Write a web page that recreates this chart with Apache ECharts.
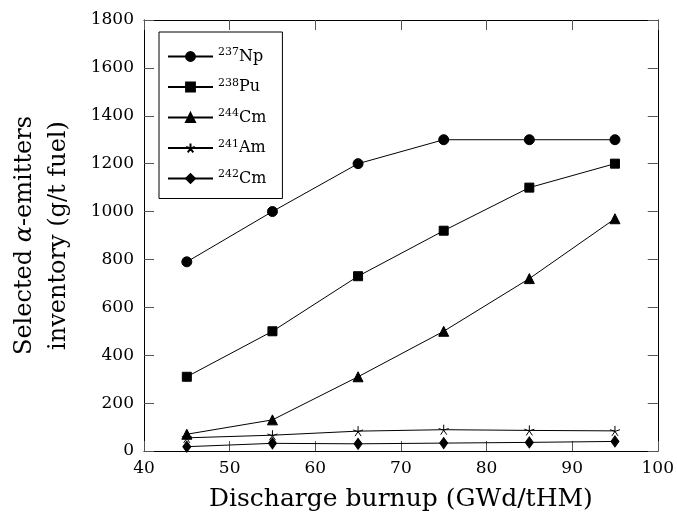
<!DOCTYPE html>
<html>
<head>
<meta charset="utf-8">
<script src="https://cdn.jsdelivr.net/npm/echarts@6/dist/echarts.min.js"></script>
<style>
  html, body { margin: 0; padding: 0; background: #fff; }
  #chart { width: 677px; height: 518px; }
</style>
</head>
<body>
<div id="chart"></div>
<script>
// burnup points (GWd/tHM)
const burnup = [45, 55, 65, 75, 85, 95]
// inventories (g/t fuel)
const np237 = [790, 1000, 1200, 1300, 1300, 1300]
const pu238 = [310, 500, 730, 920, 1100, 1200]
const cm244 = [70, 130, 310, 500, 720, 970]
const am241 = [55, 66, 83, 89, 86, 84]
const cm242 = [18, 32, 30, 33, 36, 40]

const names = ['237Np', '238Pu', '244Cm', '241Am', '242Cm']
const serif = 'DejaVu Serif'
const starPath = 'path://M0,-5L0,0M4.76,-1.55L0,0M2.94,4.05L0,0M-2.94,4.05L0,0M-4.76,-1.55L0,0'

function pairs(vals) {
  return burnup.map((x, i) => [x, vals[i]])
}

function mkSeries(name, vals, symbol, size) {
  return {
    name: name,
    type: 'line',
    data: pairs(vals),
    symbol: symbol,
    symbolSize: size,
    showAllSymbol: true,
    lineStyle: { color: '#000', width: 1 },
    itemStyle: { color: '#000', borderColor: '#000', borderWidth: 1 },
    emphasis: { disabled: true },
    z: 3
  }
}

const axisLine = { show: true, onZero: false, lineStyle: { color: '#000', width: 1 } }
const tick = { show: true, inside: true, length: 10, lineStyle: { color: '#555', width: 1 } }
const tickLabel = { fontFamily: serif, fontSize: 17, color: '#000', formatter: v => String(v) }

const option = {
  animation: false,
  backgroundColor: '#fff',
  grid: { left: 143, right: 17, top: 20, bottom: 67 },
  legend: {
    data: names,
    orient: 'vertical',
    left: 159,
    top: 32,
    itemWidth: 45,
    itemHeight: 11,
    itemGap: 13,
    padding: [15, 16, 12, 8],
    borderColor: '#000',
    borderWidth: 1,
    selectedMode: false,
    formatter(name) {
      return '{s|' + name.slice(0, 3) + '}{n|' + name.slice(3) + '}'
    },
    textStyle: {
      fontFamily: serif,
      color: '#000',
      rich: {
        s: { fontFamily: serif, fontSize: 11, padding: [0, 0, 8, 0] },
        n: { fontFamily: serif, fontSize: 16 }
      }
    }
  },
  xAxis: [
    {
      type: 'value',
      min: 40,
      max: 100,
      interval: 10,
      name: 'Discharge burnup (GWd/tHM)',
      nameLocation: 'middle',
      nameGap: 36,
      nameTextStyle: { fontFamily: serif, fontSize: 25, color: '#000' },
      axisLine: axisLine,
      axisTick: tick,
      axisLabel: Object.assign({ margin: 9 }, tickLabel),
      splitLine: { show: false }
    },
    {
      type: 'value',
      position: 'top',
      min: 40,
      max: 100,
      interval: 10,
      axisLine: axisLine,
      axisTick: tick,
      axisLabel: { show: false },
      splitLine: { show: false }
    }
  ],
  yAxis: [
    {
      type: 'value',
      min: 0,
      max: 1800,
      interval: 200,
      name: '{t|Selected }{a|α}{t|-emitters}\n{t|inventory (g/t fuel)}',
      nameLocation: 'middle',
      nameGap: 68,
      nameTextStyle: {
        fontFamily: serif,
        fontSize: 24,
        color: '#000',
        lineHeight: 34,
        rich: {
          t: { fontFamily: serif, fontSize: 24, lineHeight: 34 },
          a: { fontFamily: serif, fontSize: 24, fontStyle: 'italic', lineHeight: 34 }
        }
      },
      axisLine: axisLine,
      axisTick: tick,
      axisLabel: Object.assign({ margin: 10 }, tickLabel),
      splitLine: { show: false }
    },
    {
      type: 'value',
      position: 'right',
      min: 0,
      max: 1800,
      interval: 200,
      axisLine: axisLine,
      axisTick: tick,
      axisLabel: { show: false },
      splitLine: { show: false }
    }
  ],
  series: [
    mkSeries(names[0], np237, 'circle', 10),
    mkSeries(names[1], pu238, 'rect', 9),
    mkSeries(names[2], cm244, 'triangle', 10),
    mkSeries(names[3], am241, starPath, 10),
    mkSeries(names[4], cm242, 'diamond', [8, 11])
  ]
}

const chart = echarts.init(document.getElementById('chart'))
chart.setOption(option)
</script>
</body>
</html>
